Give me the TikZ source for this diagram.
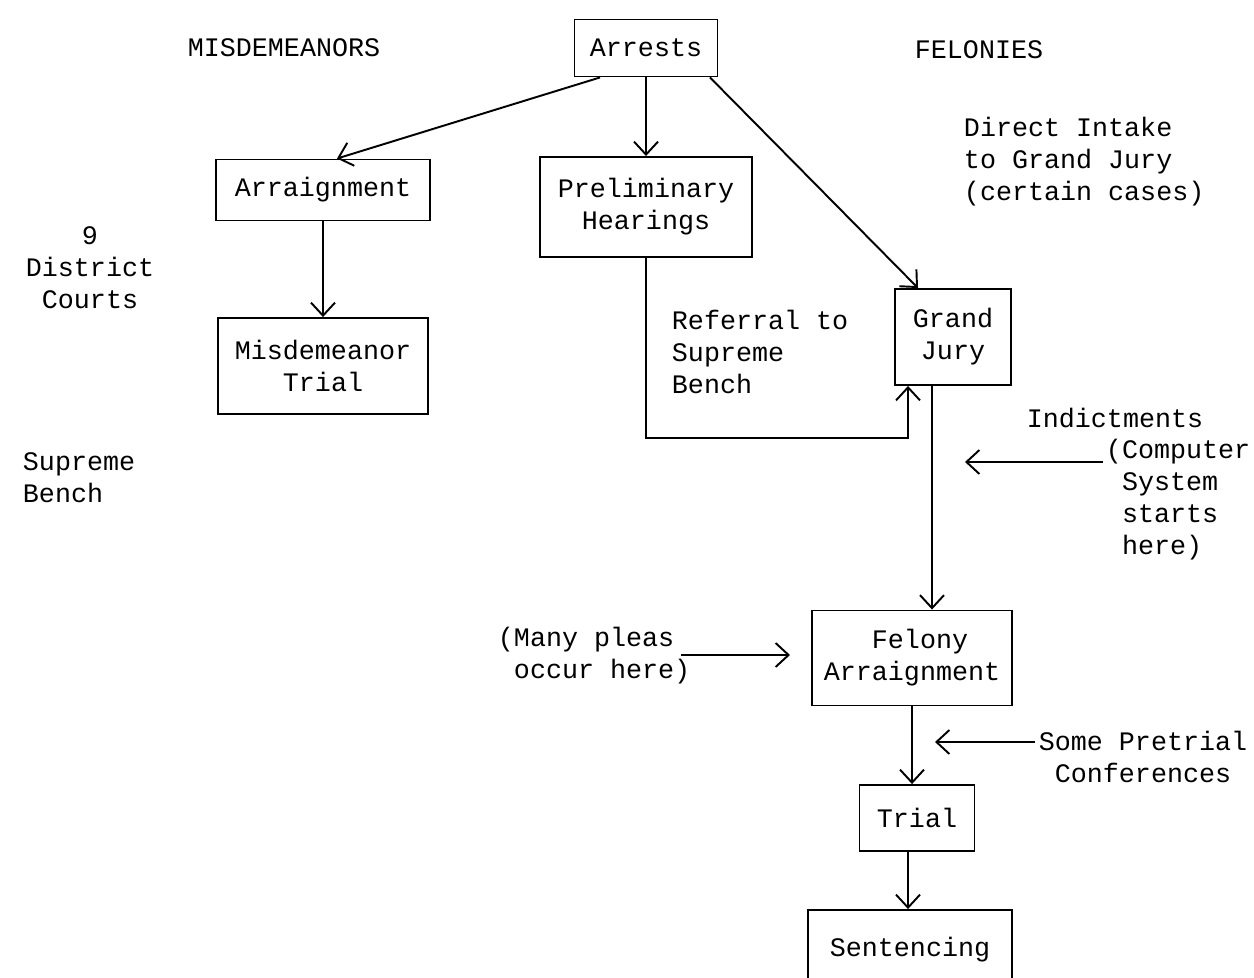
\documentclass[tikz,border=0pt]{standalone}
\usepackage{fontspec}
\setmainfont{Liberation Mono}
\usetikzlibrary{arrows.meta}
\newcommand{\typewr}{\fontsize{15.2}{18.2}\selectfont}

\begin{document}
\begin{tikzpicture}[x=0.02cm,y=-0.02cm,-,>={Straight Barb[length=2.6mm,width=4.8mm]},line width=1.1pt,
  box/.style={draw,inner sep=0pt,align=center,font=\typewr},
  lbl/.style={inner sep=0pt,align=center,font=\typewr},
  side/.style={inner sep=0pt,align=left,anchor=west,font=\typewr}]
    \useasboundingbox (0,0) rectangle (1254,977);

    % boxes
    \node[box,minimum width=2.86cm,minimum height=1.14cm] (arrests) at (646,48) {Arrests};
    \node[box,minimum width=4.28cm,minimum height=1.22cm] (arraign) at (323,190) {Arraignment};
    \node[box,minimum width=4.24cm,minimum height=2cm] (prelim) at (646,207) {Preliminary\\Hearings};
    \node[box,minimum width=4.2cm,minimum height=1.92cm] (mtrial) at (323,366) {Misdemeanor\\Trial};
    \node[box,minimum width=2.32cm,minimum height=1.92cm] (gjury) at (953,337) {Grand\\Jury};
    \node[box,minimum width=4cm,minimum height=1.9cm] (felarr) at (912,658) {\ Felony\\Arraignment};
    \node[box,minimum width=2.3cm,minimum height=1.32cm] (trial) at (917,818) {Trial};
    \node[box,minimum width=4.08cm,minimum height=1.6cm] (sent) at (910,950) {Sentencing};

    % labels
    \node[lbl] (misd) at (284,48) {MISDEMEANORS};
    \node[lbl] (fel) at (979,50) {FELONIES};
    \node[side] (intake) at (963,162) {Direct Intake\\to Grand Jury\\(certain cases)};
    \node[lbl] (district) at (90,268) {9\\District\\Courts};
    \node[side] (supreme) at (22,478) {Supreme\\Bench};
    \node[side] (referral) at (671,352) {Referral to\\Supreme\\Bench};
    \node[lbl] (indict) at (1115,418) {Indictments};
    \node[side] (comp) at (1105,500) {(Computer\\\ System\\\ starts\\\ here)};
    \node[side] (pleas) at (497,656) {(Many pleas\\\ occur here)};
    \node[lbl] (pretrial) at (1143,757) {Some Pretrial\\Conferences};

    \coordinate (bend) at (646,438);
    \coordinate (indtip) at (965,462);
    \coordinate (plstip) at (790,655);
    \coordinate (pretip) at (935,742);

    \path[->]
        ([xshift=-0.92cm]arrests.south) edge ([xshift=0.28cm]arraign.north)
        (arrests) edge (prelim)
        ([xshift=1.28cm]arrests.south) edge ([xshift=-0.7cm]gjury.north)
        (arraign) edge (mtrial)
        ;
    \draw[->] (prelim.south) |- (bend) -| ([xshift=-0.9cm]gjury.south);
    \draw[->] ([xshift=-0.42cm]gjury.south) -- ([xshift=-0.42cm]gjury.south |- felarr.north);
    \draw[->] (felarr.south) -- (felarr.south |- trial.north);
    \draw[->] ([xshift=-0.18cm]trial.south) -- ([xshift=-0.18cm]trial.south |- sent.north);
    \draw[->] ([xshift=-0.05cm]comp.west |- indtip) -- (indtip);
    \draw[->] ([xshift=-0.2cm]pleas.east |- plstip) -- (plstip);
    \draw[->] ([xshift=-0.05cm]pretrial.west |- pretip) -- (pretip);
\end{tikzpicture}
\end{document}
